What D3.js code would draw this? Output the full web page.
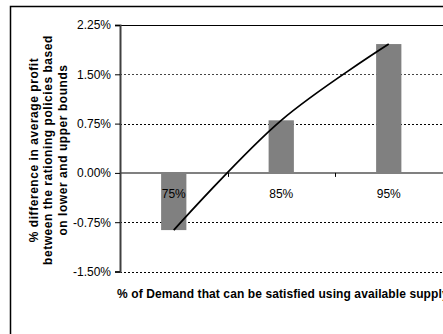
<!DOCTYPE html>
<html>
<head>
<meta charset="utf-8">
<script src="https://cdn.jsdelivr.net/npm/d3@7"></script>
<style>
  html, body { margin: 0; padding: 0; background: #fff; }
  svg { display: block; }
  text { font-family: Arial, "Liberation Sans", sans-serif; fill: #000; }
</style>
</head>
<body>
<svg id="chart" width="443" height="334"></svg>
<script>
// Supply levels (share of demand that can be met)
const categories = ["75%", "85%", "95%"];
// % difference in average profit between lower- and upper-bound rationing policies
const profitDiff = [-0.87, 0.80, 1.96];
// Value axis ticks
const yTicks = [2.25, 1.50, 0.75, 0.00, -0.75, -1.50];
const yTickLabels = ["2.25%", "1.50%", "0.75%", "0.00%", "-0.75%", "-1.50%"];
const yTitleLines = [
  "% difference in average profit",
  "between the rationing policies based",
  "on lower and upper bounds"
];
const xTitle = "% of Demand that can be satisfied using available supply";

const svg = d3.select("#chart");

// outer chart frame (extends past the visible area)
svg.append("rect")
  .attr("x", 10.5).attr("y", 6.5)
  .attr("width", 500).attr("height", 400)
  .attr("fill", "none").attr("stroke", "#000").attr("stroke-width", 1.5);

const plot = { left: 120, right: 442.5, top: 25, bottom: 271.5 };

const x = d3.scaleBand().domain(categories).range([plot.left, plot.right]);
const y = d3.scaleLinear().domain([-1.5, 2.25]).range([plot.bottom, plot.top]);

// horizontal gridlines
yTicks.forEach(t => {
  if (t === 0) return;
  svg.append("line")
    .attr("x1", plot.left).attr("x2", 443)
    .attr("y1", Math.round(y(t)) + 0.5).attr("y2", Math.round(y(t)) + 0.5)
    .attr("stroke", t === 1.5 ? "#444" : "#000")
    .attr("stroke-width", 1)
    .attr("stroke-dasharray", t === 2.25 ? null : "2,2");
});

// bars
const barW = x.bandwidth() * 0.235;
svg.selectAll("rect.bar")
  .data(profitDiff)
  .join("rect")
  .attr("class", "bar")
  .attr("x", (d, i) => x(categories[i]) + x.bandwidth() / 2 - barW / 2)
  .attr("width", barW)
  .attr("y", d => y(Math.max(0, d)))
  .attr("height", d => Math.abs(y(d) - y(0)))
  .attr("fill", "#808080");

// category axis along zero
svg.append("line")
  .attr("x1", plot.left).attr("x2", 443)
  .attr("y1", y(0)).attr("y2", y(0))
  .attr("stroke", "#808080").attr("stroke-width", 2);
// band boundary ticks
categories.slice(1).forEach(c => {
  svg.append("line")
    .attr("x1", Math.round(x(c)) + 0.5).attr("x2", Math.round(x(c)) + 0.5)
    .attr("y1", y(0)).attr("y2", y(0) + 4)
    .attr("stroke", "#000").attr("stroke-width", 1);
});
svg.selectAll("text.cat")
  .data(categories)
  .join("text")
  .attr("class", "cat")
  .attr("x", d => x(d) + x.bandwidth() / 2)
  .attr("y", y(0) + 25)
  .attr("text-anchor", "middle")
  .attr("font-size", 12)
  .text(d => d);

// smoothed line through the values
const line = d3.line()
  .x((d, i) => x(categories[i]) + x.bandwidth() / 2)
  .y(d => y(d))
  .curve(d3.curveCatmullRom);
svg.append("path")
  .attr("d", line(profitDiff))
  .attr("fill", "none")
  .attr("stroke", "#000")
  .attr("stroke-width", 1.8);

// value axis
const yAxis = d3.axisLeft(y).tickValues(yTicks).tickSize(5).tickFormat((d, i) => yTickLabels[i]);
const gy = svg.append("g").attr("transform", `translate(${plot.left},0)`).call(yAxis);
gy.select(".domain").attr("stroke", "#404040").attr("stroke-width", 2);
gy.selectAll(".tick line").attr("stroke", "#000");
gy.selectAll(".tick text")
  .attr("x", -9)
  .attr("font-size", 12)
  .attr("font-family", "Arial, 'Liberation Sans', sans-serif")
  .attr("fill", "#000");

// value axis title
const yt = svg.append("text")
  .attr("transform", "translate(38,150) rotate(-90)")
  .attr("text-anchor", "middle")
  .attr("font-size", 12)
  .attr("font-weight", "bold")
  .attr("letter-spacing", 0.55);
yTitleLines.forEach((t, i) => {
  yt.append("tspan").attr("x", 0).attr("dy", i === 0 ? 0 : 14.3).text(t);
});

// category axis title
svg.append("text")
  .attr("x", 117).attr("y", 298)
  .attr("font-size", 12)
  .attr("font-weight", "bold")
  .attr("letter-spacing", 0.1)
  .text(xTitle);
</script>
</body>
</html>
